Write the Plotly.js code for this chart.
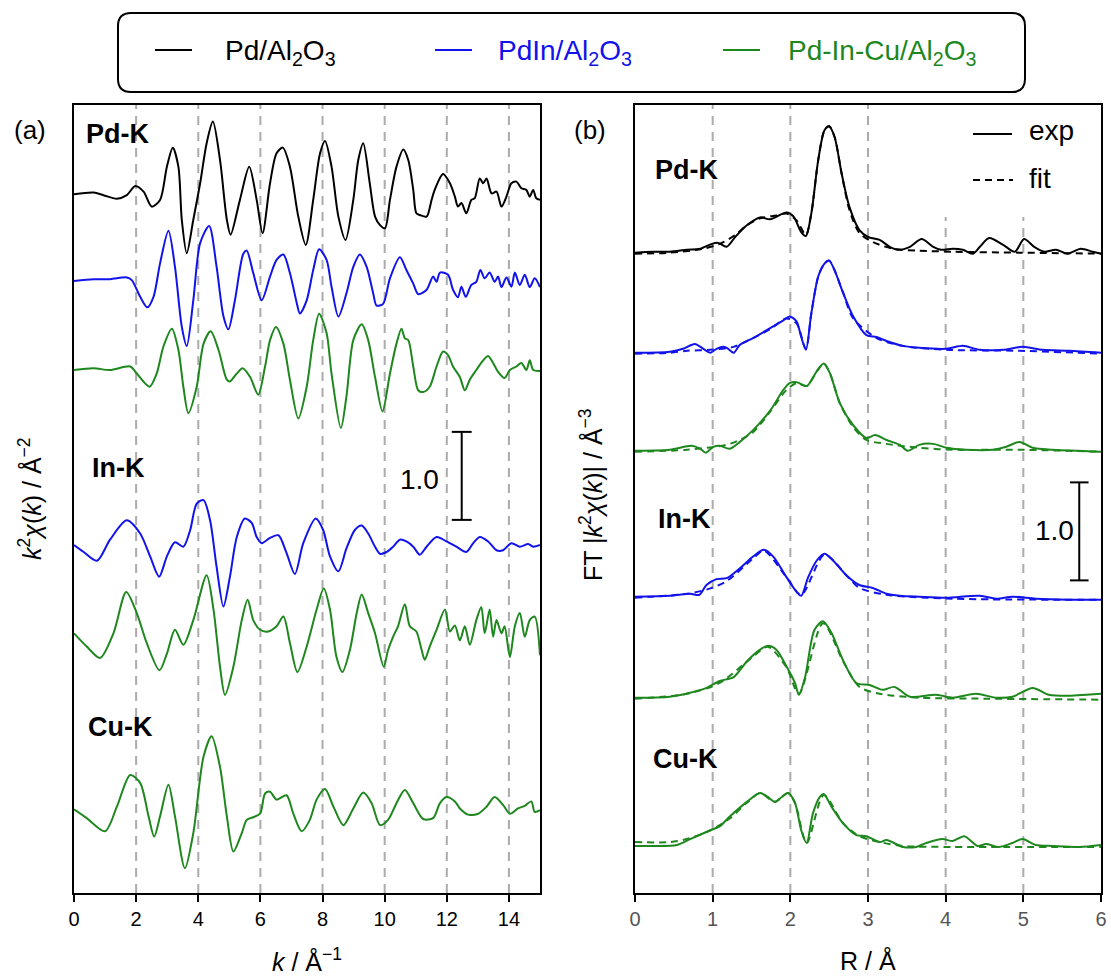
<!DOCTYPE html>
<html>
<head>
<meta charset="utf-8">
<script src="https://cdn.plot.ly/plotly-3.0.1.min.js"></script>
<style>
  html, body { margin: 0; padding: 0; background: #fff; }
  #chart { width: 1111px; height: 979px; }
</style>
</head>
<body>
<div id="chart"></div>
<script>
// ---------- (a) k-space EXAFS, k^2-weighted chi(k) ----------
const kPdRef = [0,0.63,0.95,1.38,1.70,1.97,2.24,2.50,2.77,2.99,3.18,3.36,3.47,3.63,3.84,4.06,4.27,4.47,4.70,4.92,5.04,5.34,5.64,5.88,6.07,6.31,6.52,6.72,6.95,7.22,7.46,7.70,7.92,8.08,8.29,8.51,8.74,8.99,9.15,9.31,9.52,9.69,9.85,10.01,10.17,10.38,10.60,10.76,10.92,11.02,11.13,11.35,11.51,11.61,11.88,12.10,12.26,12.36,12.47,12.63,12.79,12.90,13.06,13.17,13.28,13.44,13.60,13.76,13.92,14.08,14.24,14.40,14.56,14.67,14.78,14.88,15.0];
const chiPdRef = [0,0.02,-0.01,-0.05,-0.01,0.095,0.03,-0.14,-0.064,0.314,0.53,0.314,-0.29,-0.67,-0.29,0.125,0.58,0.826,0.39,-0.29,-0.46,-0.064,0.314,-0.064,-0.443,0.125,0.466,0.53,0.314,-0.254,-0.576,-0.064,0.466,0.606,0.314,-0.254,-0.519,-0.064,0.39,0.58,0.125,-0.254,-0.35,-0.386,-0.064,0.314,0.51,0.39,0.05,-0.216,-0.235,-0.254,-0.064,0.05,0.23,0.125,-0.027,-0.14,-0.10,-0.216,-0.064,-0.045,0.18,0.125,0.18,0.01,0.03,-0.14,-0.027,0.125,0.144,0.068,0.05,-0.027,0.05,-0.045,-0.064];

const kPdPdIn = [0,0.63,1.16,1.70,1.86,2.13,2.36,2.56,2.77,3.04,3.25,3.47,3.63,3.84,4.06,4.35,4.59,4.81,4.97,5.18,5.45,5.56,5.77,6.04,6.31,6.52,6.74,6.95,7.17,7.27,7.49,7.70,7.89,8.13,8.29,8.51,8.77,8.99,9.20,9.42,9.63,9.74,9.95,10.17,10.49,10.70,10.92,11.08,11.35,11.56,11.67,11.78,12.04,12.20,12.36,12.47,12.61,12.79,12.95,13.08,13.22,13.38,13.54,13.65,13.76,13.92,14.08,14.19,14.35,14.51,14.67,14.83,15.0];
const chiPdPdIn = [0,0.02,0.02,0.04,0.01,-0.18,-0.30,-0.18,0.20,0.57,0.16,-0.52,-0.74,-0.22,0.43,0.625,0.16,-0.40,-0.55,-0.22,0.31,0.345,0.09,-0.22,0.05,0.24,0.30,0.09,-0.25,-0.37,-0.22,0.125,0.36,0.24,-0.065,-0.405,-0.14,0.16,0.30,0.16,-0.14,-0.28,-0.26,0.03,0.27,0.125,-0.03,-0.15,-0.10,0.05,-0.01,0.095,0.07,-0.10,-0.185,-0.065,-0.18,-0.045,-0.01,0.125,0.03,0.095,-0.01,0.05,-0.07,0.04,-0.065,0.095,-0.045,0.07,-0.07,0.03,-0.07];

const kPdTri = [0,0.63,1.16,1.81,2.02,2.43,2.66,2.88,3.15,3.36,3.52,3.68,3.95,4.17,4.40,4.65,4.92,5.02,5.24,5.43,5.67,5.93,6.15,6.31,6.50,6.74,6.95,7.22,7.49,7.70,7.89,8.13,8.29,8.59,8.77,8.99,9.26,9.47,9.69,9.93,10.17,10.38,10.54,10.65,10.76,10.92,11.08,11.24,11.45,11.67,11.88,12.04,12.20,12.42,12.58,12.74,12.95,13.17,13.33,13.49,13.65,13.86,14.03,14.24,14.40,14.56,14.67,14.78,15.0];
const chiPdTri = [0,0.02,0,0.04,-0.04,-0.19,-0.04,0.27,0.47,0.23,-0.19,-0.49,-0.19,0.30,0.44,0.23,-0.11,-0.13,-0.04,0.02,-0.08,-0.28,0.04,0.34,0.49,0.30,-0.11,-0.55,-0.19,0.34,0.64,0.42,-0.04,-0.66,-0.30,0.34,0.52,0.34,-0.08,-0.47,-0.04,0.30,0.47,0.36,0.34,0.04,-0.23,-0.25,-0.19,0.04,0.21,0.17,0.04,-0.08,-0.23,-0.11,0,0.11,0.16,0.08,-0.02,-0.09,0,0.04,0.08,0,0.11,0,-0.01];

const kInPdIn = [0,0.31,0.74,1.16,1.70,2.13,2.45,2.74,2.99,3.25,3.52,3.74,3.95,4.17,4.38,4.59,4.81,5.02,5.24,5.50,5.72,5.88,6.04,6.31,6.58,6.84,7.11,7.38,7.78,8.02,8.24,8.51,8.77,9.04,9.26,9.47,9.69,9.85,10.06,10.27,10.49,10.70,10.92,11.13,11.35,11.67,11.99,12.31,12.63,12.85,13.06,13.33,13.60,13.81,14.08,14.35,14.62,14.78,15.0];
const chiInPdIn = [0,-0.08,-0.18,0.06,0.28,0.13,-0.13,-0.36,-0.13,0.03,-0.02,0.17,0.47,0.51,0.28,-0.25,-0.70,-0.36,0.09,0.30,0.25,0.09,0.02,0.08,0.11,-0.09,-0.33,0.02,0.30,0.17,-0.13,-0.30,-0.04,0.17,0.22,0.13,-0.02,-0.10,-0.08,-0.02,0.06,0.04,-0.02,-0.11,-0.02,0.09,0.04,-0.02,-0.08,0.02,0.09,0.04,-0.06,-0.06,0.02,-0.02,0.01,-0.02,0];

const kInTri = [0,0.41,0.84,1.27,1.68,2.02,2.34,2.75,2.99,3.25,3.52,3.84,4.27,4.49,4.70,4.86,5.13,5.40,5.59,5.77,5.99,6.25,6.52,6.74,6.95,7.19,7.49,7.81,8.04,8.24,8.45,8.64,8.88,9.10,9.26,9.47,9.69,9.97,10.11,10.27,10.43,10.65,10.81,11.02,11.19,11.29,11.45,11.67,11.94,12.10,12.26,12.42,12.58,12.74,12.95,13.11,13.22,13.38,13.49,13.60,13.76,13.86,14.03,14.19,14.35,14.51,14.67,14.83,15.0];
const chiInTri = [0,-0.15,-0.28,0,0.47,0.23,-0.11,-0.42,-0.23,0.04,-0.13,0.15,0.66,0.27,-0.38,-0.70,-0.38,0.15,0.38,0.15,0.04,0.02,0.08,0.19,-0.11,-0.44,-0.15,0.27,0.51,0.27,-0.27,-0.44,-0.19,0.23,0.44,0.23,0,-0.38,-0.19,-0.04,0.08,0.33,0.08,0.02,-0.19,-0.30,-0.15,0.04,0.27,0.02,0.09,-0.08,0.08,-0.13,0.15,0.30,0,0.27,-0.04,0.15,0,0.08,-0.27,0.08,0.23,-0.04,0.15,0.19,-0.25];

const kCuTri = [0,0.41,1.00,1.38,1.81,2.13,2.40,2.58,2.77,3.04,3.25,3.57,3.84,4.17,4.43,4.70,4.92,5.13,5.40,5.56,5.77,5.99,6.15,6.31,6.52,6.84,7.06,7.33,7.59,7.81,8.08,8.35,8.67,8.99,9.31,9.58,9.85,10.11,10.38,10.65,10.92,11.24,11.56,11.78,11.99,12.26,12.42,12.69,13.01,13.28,13.54,13.81,14.03,14.29,14.51,14.72,14.83,15.0];
const chiCuTri = [0,-0.10,-0.25,0.03,0.39,0.30,-0.08,-0.31,-0.08,0.28,-0.08,-0.67,-0.27,0.60,0.83,0.48,-0.08,-0.48,-0.27,-0.12,-0.09,-0.05,0.18,0.20,0.11,0.16,-0.05,-0.25,-0.12,0.11,0.23,0.03,-0.18,0.01,0.19,0.07,-0.18,-0.12,0.07,0.22,0.07,-0.11,-0.10,0.07,0.14,0.09,0.01,-0.06,-0.05,0.03,0.14,0.05,-0.05,0.01,0.04,0.09,-0.03,-0.01];

// ---------- (b) R-space, |FT| of k^2 chi(k): experiment and fit ----------
const rPdRefExp = [0,0.24,0.45,0.67,0.84,0.99,1.07,1.18,1.29,1.44,1.61,1.74,1.95,2.04,2.14,2.20,2.27,2.36,2.44,2.50,2.57,2.66,2.76,2.89,3.00,3.15,3.28,3.39,3.54,3.69,3.84,3.94,4.09,4.22,4.35,4.44,4.56,4.74,4.89,5.01,5.14,5.27,5.42,5.57,5.74,5.89,6.0];
const ftPdRefExp = [0,0.01,0.01,0.03,0.04,0.09,0.10,0.06,0.16,0.28,0.36,0.34,0.41,0.37,0.21,0.17,0.40,0.95,1.25,1.29,1.18,0.81,0.47,0.23,0.16,0.13,0.06,0.03,0.06,0.14,0.06,0.03,0.04,0.03,-0.01,0.06,0.15,0.08,0.01,0.14,0.06,0.01,0.03,-0.01,0.04,0.01,-0.01];
const rPdRefFit = [0,0.45,0.88,1.09,1.29,1.44,1.61,1.82,1.95,2.08,2.20,2.27,2.36,2.44,2.50,2.57,2.66,2.76,2.89,3.06,3.32,3.66,4.09,4.95,6.0];
const ftPdRefFit = [-0.01,0,0.04,0.09,0.18,0.28,0.35,0.38,0.40,0.33,0.18,0.40,0.95,1.25,1.29,1.18,0.81,0.44,0.20,0.11,0.04,0.02,0.01,0,-0.01];

const rPdPdInExp = [0,0.45,0.62,0.77,0.88,0.97,1.05,1.14,1.20,1.27,1.35,1.52,1.74,1.91,1.99,2.08,2.14,2.20,2.27,2.36,2.44,2.50,2.57,2.68,2.81,2.98,3.11,3.24,3.45,3.66,4.01,4.22,4.44,4.74,4.99,5.25,5.59,6.0];
const ftPdPdInExp = [0,0.01,0.04,0.09,0.04,0,0.04,0.06,0.04,0,0.08,0.15,0.25,0.33,0.37,0.32,0.16,0.03,0.40,0.78,0.91,0.94,0.84,0.61,0.37,0.18,0.16,0.12,0.07,0.05,0.04,0.07,0.03,0.03,0.06,0.03,0.02,0];
const rPdPdInFit = [0,0.45,0.67,0.97,1.27,1.52,1.74,1.95,2.08,2.20,2.27,2.36,2.44,2.50,2.57,2.68,2.81,3.11,3.45,4.01,4.95,6.0];
const ftPdPdInFit = [-0.01,0,0.02,0.03,0.06,0.15,0.24,0.35,0.30,0.04,0.40,0.78,0.91,0.94,0.84,0.61,0.35,0.15,0.07,0.03,0.02,-0.01];

const rPdTriExp = [0,0.45,0.73,0.84,0.91,1.01,1.09,1.22,1.35,1.52,1.74,1.91,1.99,2.08,2.21,2.34,2.43,2.51,2.64,2.81,2.98,3.09,3.24,3.41,3.51,3.66,3.84,4.01,4.26,4.61,4.78,4.95,5.12,5.38,6.0];
const ftPdTriExp = [0,0.01,0.05,0.02,-0.02,0.04,0.05,0.02,0.09,0.21,0.41,0.62,0.69,0.70,0.66,0.81,0.89,0.79,0.48,0.26,0.13,0.16,0.11,0.06,0,0.06,0.07,0.03,0.01,0.01,0.04,0.09,0.03,0.01,-0.01];
const rPdTriFit = [0,0.67,1.22,1.52,1.74,1.95,2.08,2.21,2.34,2.43,2.51,2.64,2.81,2.98,3.24,3.66,4.09,4.95,6.0];
const ftPdTriFit = [-0.01,0.01,0.07,0.19,0.40,0.62,0.69,0.66,0.81,0.89,0.79,0.48,0.24,0.11,0.07,0.03,0.01,0.01,-0.01];

const rInPdInExp = [0,0.45,0.71,0.83,0.92,1.05,1.18,1.35,1.52,1.66,1.78,1.95,2.08,2.14,2.23,2.34,2.44,2.55,2.72,2.89,3.06,3.24,3.41,3.66,4.01,4.44,4.65,4.86,5.16,5.59,6.0];
const ftInPdInExp = [0,0.01,0.03,0.02,0.12,0.18,0.19,0.29,0.41,0.48,0.41,0.20,0.05,0.01,0.20,0.37,0.44,0.37,0.22,0.12,0.09,0.03,0.01,0,-0.01,0.01,-0.02,0,-0.02,-0.03,-0.03];
const rInPdInFit = [0,0.67,0.97,1.18,1.52,1.66,1.95,2.14,2.44,2.72,2.89,3.24,4.09,6.0];
const ftInPdInFit = [-0.01,0.03,0.085,0.16,0.39,0.47,0.20,0.02,0.43,0.22,0.09,0.02,-0.02,-0.03];

const rInTriExp = [0,0.45,0.71,0.92,1.09,1.27,1.44,1.61,1.71,1.82,1.95,2.06,2.11,2.19,2.31,2.42,2.53,2.68,2.85,3.02,3.19,3.34,3.54,3.88,4.09,4.39,4.65,4.86,5.12,5.33,5.59,5.81,6.0];
const ftInTriExp = [0,0.01,0.05,0.10,0.17,0.21,0.37,0.49,0.53,0.49,0.32,0.15,0.03,0.21,0.69,0.78,0.66,0.38,0.15,0.13,0.08,0.11,0.01,0.03,0,0.04,0,0.01,0.10,0.03,0.02,0.03,0.04];
const rInTriFit = [0,0.67,1.09,1.52,1.71,1.95,2.11,2.42,2.68,2.89,3.15,3.66,4.52,6.0];
const ftInTriFit = [-0.01,0.04,0.15,0.42,0.52,0.31,0.04,0.76,0.37,0.11,0.04,0,-0.01,-0.02];

const rCuTriExp = [0,0.24,0.54,0.71,0.97,1.09,1.22,1.44,1.61,1.71,1.80,1.89,1.97,2.06,2.14,2.21,2.29,2.38,2.43,2.53,2.68,2.85,2.98,3.15,3.24,3.45,3.62,3.75,3.96,4.09,4.24,4.41,4.52,4.69,4.86,4.99,5.16,5.38,5.72,6.0];
const ftCuTriExp = [0,0,0.01,0.07,0.16,0.20,0.30,0.45,0.54,0.50,0.45,0.50,0.54,0.44,0.16,0.03,0.33,0.50,0.53,0.40,0.23,0.11,0.10,0.04,0.06,-0.01,-0.01,0.03,0.07,0.05,0.10,0,0.02,-0.01,0.03,0.07,0.01,0,-0.01,0.01];
const rCuTriFit = [0,0.45,0.71,0.97,1.22,1.44,1.61,1.80,1.97,2.06,2.21,2.43,2.68,2.89,3.15,3.45,4.09,6.0];
const ftCuTriFit = [0.04,0.04,0.08,0.16,0.28,0.44,0.54,0.45,0.54,0.44,0.03,0.52,0.23,0.10,0.04,0,-0.01,-0.01];

// vertical stacking of the spectra (same units as the curves)
const offsetsK = { pdRef: 7.94, pdPdIn: 6.955, pdTri: 5.943, inPdIn: 3.955, inTri: 2.951, cuTri: 0.951 };
const offsetsR = { pdRef: 6.534, pdPdIn: 5.513, pdTri: 4.513, inPdIn: 3.023, inTri: 1.993, cuTri: 0.480 };

const sampleNames = ['Pd/Al<sub>2</sub>O<sub>3</sub>', 'PdIn/Al<sub>2</sub>O<sub>3</sub>', 'Pd-In-Cu/Al<sub>2</sub>O<sub>3</sub>'];
const edgeLabels = ['Pd-K', 'In-K', 'Cu-K'];
const kTicks = [0, 2, 4, 6, 8, 10, 12, 14];
const rTicks = [0, 1, 2, 3, 4, 5, 6];

// ---------- styling ----------
const BLACK = '#000000';
const BLUE = 'rgb(18,18,235)';
const GREEN = 'rgb(30,135,30)';
const W = 1111, H = 979;
const FONT = 'Liberation Sans, Arial, sans-serif';

// pixel -> paper helpers for decorations
const px = x => x / W;
const py = y => 1 - y / H;

function curve(x, v, off, color, xa, ya, dash) {
  return {
    type: 'scatter', mode: 'lines', x: x, y: v.map(d => d + off),
    xaxis: xa, yaxis: ya, showlegend: false, hoverinfo: 'skip',
    line: { color: color, width: 2, shape: 'spline', smoothing: 0.8, dash: dash || 'solid' }
  };
}

const traces = [
  curve(kPdRef, chiPdRef, offsetsK.pdRef, BLACK, 'x', 'y'),
  curve(kPdPdIn, chiPdPdIn, offsetsK.pdPdIn, BLUE, 'x', 'y'),
  curve(kPdTri, chiPdTri, offsetsK.pdTri, GREEN, 'x', 'y'),
  curve(kInPdIn, chiInPdIn, offsetsK.inPdIn, BLUE, 'x', 'y'),
  curve(kInTri, chiInTri, offsetsK.inTri, GREEN, 'x', 'y'),
  curve(kCuTri, chiCuTri, offsetsK.cuTri, GREEN, 'x', 'y'),

  curve(rPdRefFit, ftPdRefFit, offsetsR.pdRef, BLACK, 'x2', 'y2', '7px,5px'),
  curve(rPdRefExp, ftPdRefExp, offsetsR.pdRef, BLACK, 'x2', 'y2'),
  curve(rPdPdInFit, ftPdPdInFit, offsetsR.pdPdIn, BLUE, 'x2', 'y2', '7px,5px'),
  curve(rPdPdInExp, ftPdPdInExp, offsetsR.pdPdIn, BLUE, 'x2', 'y2'),
  curve(rPdTriFit, ftPdTriFit, offsetsR.pdTri, GREEN, 'x2', 'y2', '7px,5px'),
  curve(rPdTriExp, ftPdTriExp, offsetsR.pdTri, GREEN, 'x2', 'y2'),
  curve(rInPdInFit, ftInPdInFit, offsetsR.inPdIn, BLUE, 'x2', 'y2', '7px,5px'),
  curve(rInPdInExp, ftInPdInExp, offsetsR.inPdIn, BLUE, 'x2', 'y2'),
  curve(rInTriFit, ftInTriFit, offsetsR.inTri, GREEN, 'x2', 'y2', '7px,5px'),
  curve(rInTriExp, ftInTriExp, offsetsR.inTri, GREEN, 'x2', 'y2'),
  curve(rCuTriFit, ftCuTriFit, offsetsR.cuTri, GREEN, 'x2', 'y2', '7px,5px'),
  curve(rCuTriExp, ftCuTriExp, offsetsR.cuTri, GREEN, 'x2', 'y2')
];

// ---------- decorations ----------
const shapes = [];
const GRID = { color: '#ababab', width: 2, dash: '9px,7px' };
kTicks.slice(1).forEach(k => shapes.push({ type: 'line', xref: 'x', yref: 'y domain', x0: k, x1: k, y0: 0, y1: 1, line: GRID, layer: 'below' }));
[1, 2, 3].forEach(r => shapes.push({ type: 'line', xref: 'x2', yref: 'y2 domain', x0: r, x1: r, y0: 0, y1: 1, line: GRID, layer: 'below' }));
[4, 5].forEach(r => shapes.push({ type: 'line', xref: 'x2', yref: 'y2 domain', x0: r, x1: r, y0: 0, y1: 0.858, line: GRID, layer: 'below' }));

// 1.0 scale bars, drawn in data units
const barK = { x: 12.48, cap: 0.32, y0: 4.24 };
const barR = { x: 5.72, cap: 0.12, y0: 3.19 };
[[barK, 'x', 'y'], [barR, 'x2', 'y2']].forEach(([b, xr, yr]) => {
  const ln = { color: BLACK, width: 2 };
  shapes.push({ type: 'line', xref: xr, yref: yr, x0: b.x, x1: b.x, y0: b.y0, y1: b.y0 + 1.0, line: ln });
  shapes.push({ type: 'line', xref: xr, yref: yr, x0: b.x - b.cap, x1: b.x + b.cap, y0: b.y0, y1: b.y0, line: ln });
  shapes.push({ type: 'line', xref: xr, yref: yr, x0: b.x - b.cap, x1: b.x + b.cap, y0: b.y0 + 1.0, y1: b.y0 + 1.0, line: ln });
});

// top legend frame with rounded corners
(function () {
  const x0 = 118, x1 = 1025, y0 = 13, y1 = 92, r = 13;
  const P = (x, y) => px(x) + ',' + py(y);
  const path = 'M' + P(x0 + r, y0) + ' L' + P(x1 - r, y0) + ' Q' + P(x1, y0) + ' ' + P(x1, y0 + r) +
    ' L' + P(x1, y1 - r) + ' Q' + P(x1, y1) + ' ' + P(x1 - r, y1) +
    ' L' + P(x0 + r, y1) + ' Q' + P(x0, y1) + ' ' + P(x0, y1 - r) +
    ' L' + P(x0, y0 + r) + ' Q' + P(x0, y0) + ' ' + P(x0 + r, y0) + ' Z';
  shapes.push({ type: 'path', xref: 'paper', yref: 'paper', path: path, line: { color: BLACK, width: 2 } });
})();
const legendItems = [
  { x0: 155, x1: 192, tx: 223, color: BLACK },
  { x0: 435, x1: 472, tx: 496, color: BLUE },
  { x0: 723, x1: 760, tx: 786, color: GREEN }
];
legendItems.forEach(it => shapes.push({ type: 'line', xref: 'paper', yref: 'paper', x0: px(it.x0), x1: px(it.x1), y0: py(50), y1: py(50), line: { color: it.color, width: 2 } }));

// exp / fit key in panel (b)
shapes.push({ type: 'line', xref: 'paper', yref: 'paper', x0: px(973), x1: px(1012), y0: py(134), y1: py(134), line: { color: BLACK, width: 2 } });
shapes.push({ type: 'line', xref: 'paper', yref: 'paper', x0: px(973), x1: px(1013), y0: py(180), y1: py(180), line: { color: BLACK, width: 2, dash: '7px,5px' } });

const ann = [];
function text(t, x, y, size, opts) {
  ann.push(Object.assign({ text: t, xref: 'paper', yref: 'paper', x: px(x), y: py(y), showarrow: false,
    xanchor: 'left', yanchor: 'middle', font: { family: FONT, size: size, color: BLACK } }, opts || {}));
}
legendItems.forEach((it, i) => text(sampleNames[i], it.tx, 52, 28, { font: { family: FONT, size: 28, color: it.color } }));
text('exp', 1027, 131, 28);
text('fit', 1027, 178, 28);
text('(a)', 12, 130, 26);
text('(b)', 572, 130, 26);
text('<b>' + edgeLabels[0] + '</b>', 84, 134, 27);
text('<b>' + edgeLabels[1] + '</b>', 90, 468, 27);
text('<b>' + edgeLabels[2] + '</b>', 86, 727, 27);
text('<b>' + edgeLabels[0] + '</b>', 653, 170, 27);
text('<b>' + edgeLabels[1] + '</b>', 656, 519, 27);
text('<b>' + edgeLabels[2] + '</b>', 651, 759, 27);
text('1.0', 398, 480, 28);
text('1.0', 1033, 530, 28);
// axis titles
text('<i>k</i> / Å<sup>−1</sup>', 307, 960, 25, { xanchor: 'center' });
text('R / Å', 868, 960, 25, { xanchor: 'center' });
text('<i>k</i><sup>2</sup><i>χ</i>(<i>k</i>) / Å<sup>−2</sup>', 30, 499, 25, { xanchor: 'center', textangle: -90 });
text('FT |<i>k</i><sup>2</sup><i>χ</i>(<i>k</i>)| / Å<sup>−3</sup>', 591, 495, 25, { xanchor: 'center', textangle: -90 });

const yDom = [1 - 893 / H, 1 - 105 / H];
const frame = { showline: true, linecolor: BLACK, linewidth: 2, mirror: true, showgrid: false, zeroline: false, fixedrange: true };

const layout = {
  width: W, height: H,
  margin: { l: 0, r: 0, t: 0, b: 0 },
  paper_bgcolor: '#ffffff', plot_bgcolor: '#ffffff',
  showlegend: false,
  xaxis: Object.assign({}, frame, {
    domain: [px(74), px(540)], range: [0, 15], tickmode: 'array', tickvals: kTicks,
    ticks: 'outside', ticklen: 7, tickwidth: 1.5, tickcolor: BLACK,
    tickfont: { family: FONT, size: 20, color: BLACK }, anchor: 'y'
  }),
  yaxis: Object.assign({}, frame, { domain: yDom, range: [0, 788 / 88], showticklabels: false, ticks: '', anchor: 'x' }),
  xaxis2: Object.assign({}, frame, {
    domain: [px(635), px(1101)], range: [0, 6], tickmode: 'array', tickvals: rTicks,
    ticks: 'outside', ticklen: 7, tickwidth: 1.5, tickcolor: BLACK,
    tickfont: { family: FONT, size: 20, color: '#555555' }, anchor: 'y2'
  }),
  yaxis2: Object.assign({}, frame, { domain: yDom, range: [0, 788 / 98], showticklabels: false, ticks: '', anchor: 'x2' }),
  shapes: shapes,
  annotations: ann
};

Plotly.newPlot('chart', traces, layout, { displayModeBar: false });
</script>
</body>
</html>
